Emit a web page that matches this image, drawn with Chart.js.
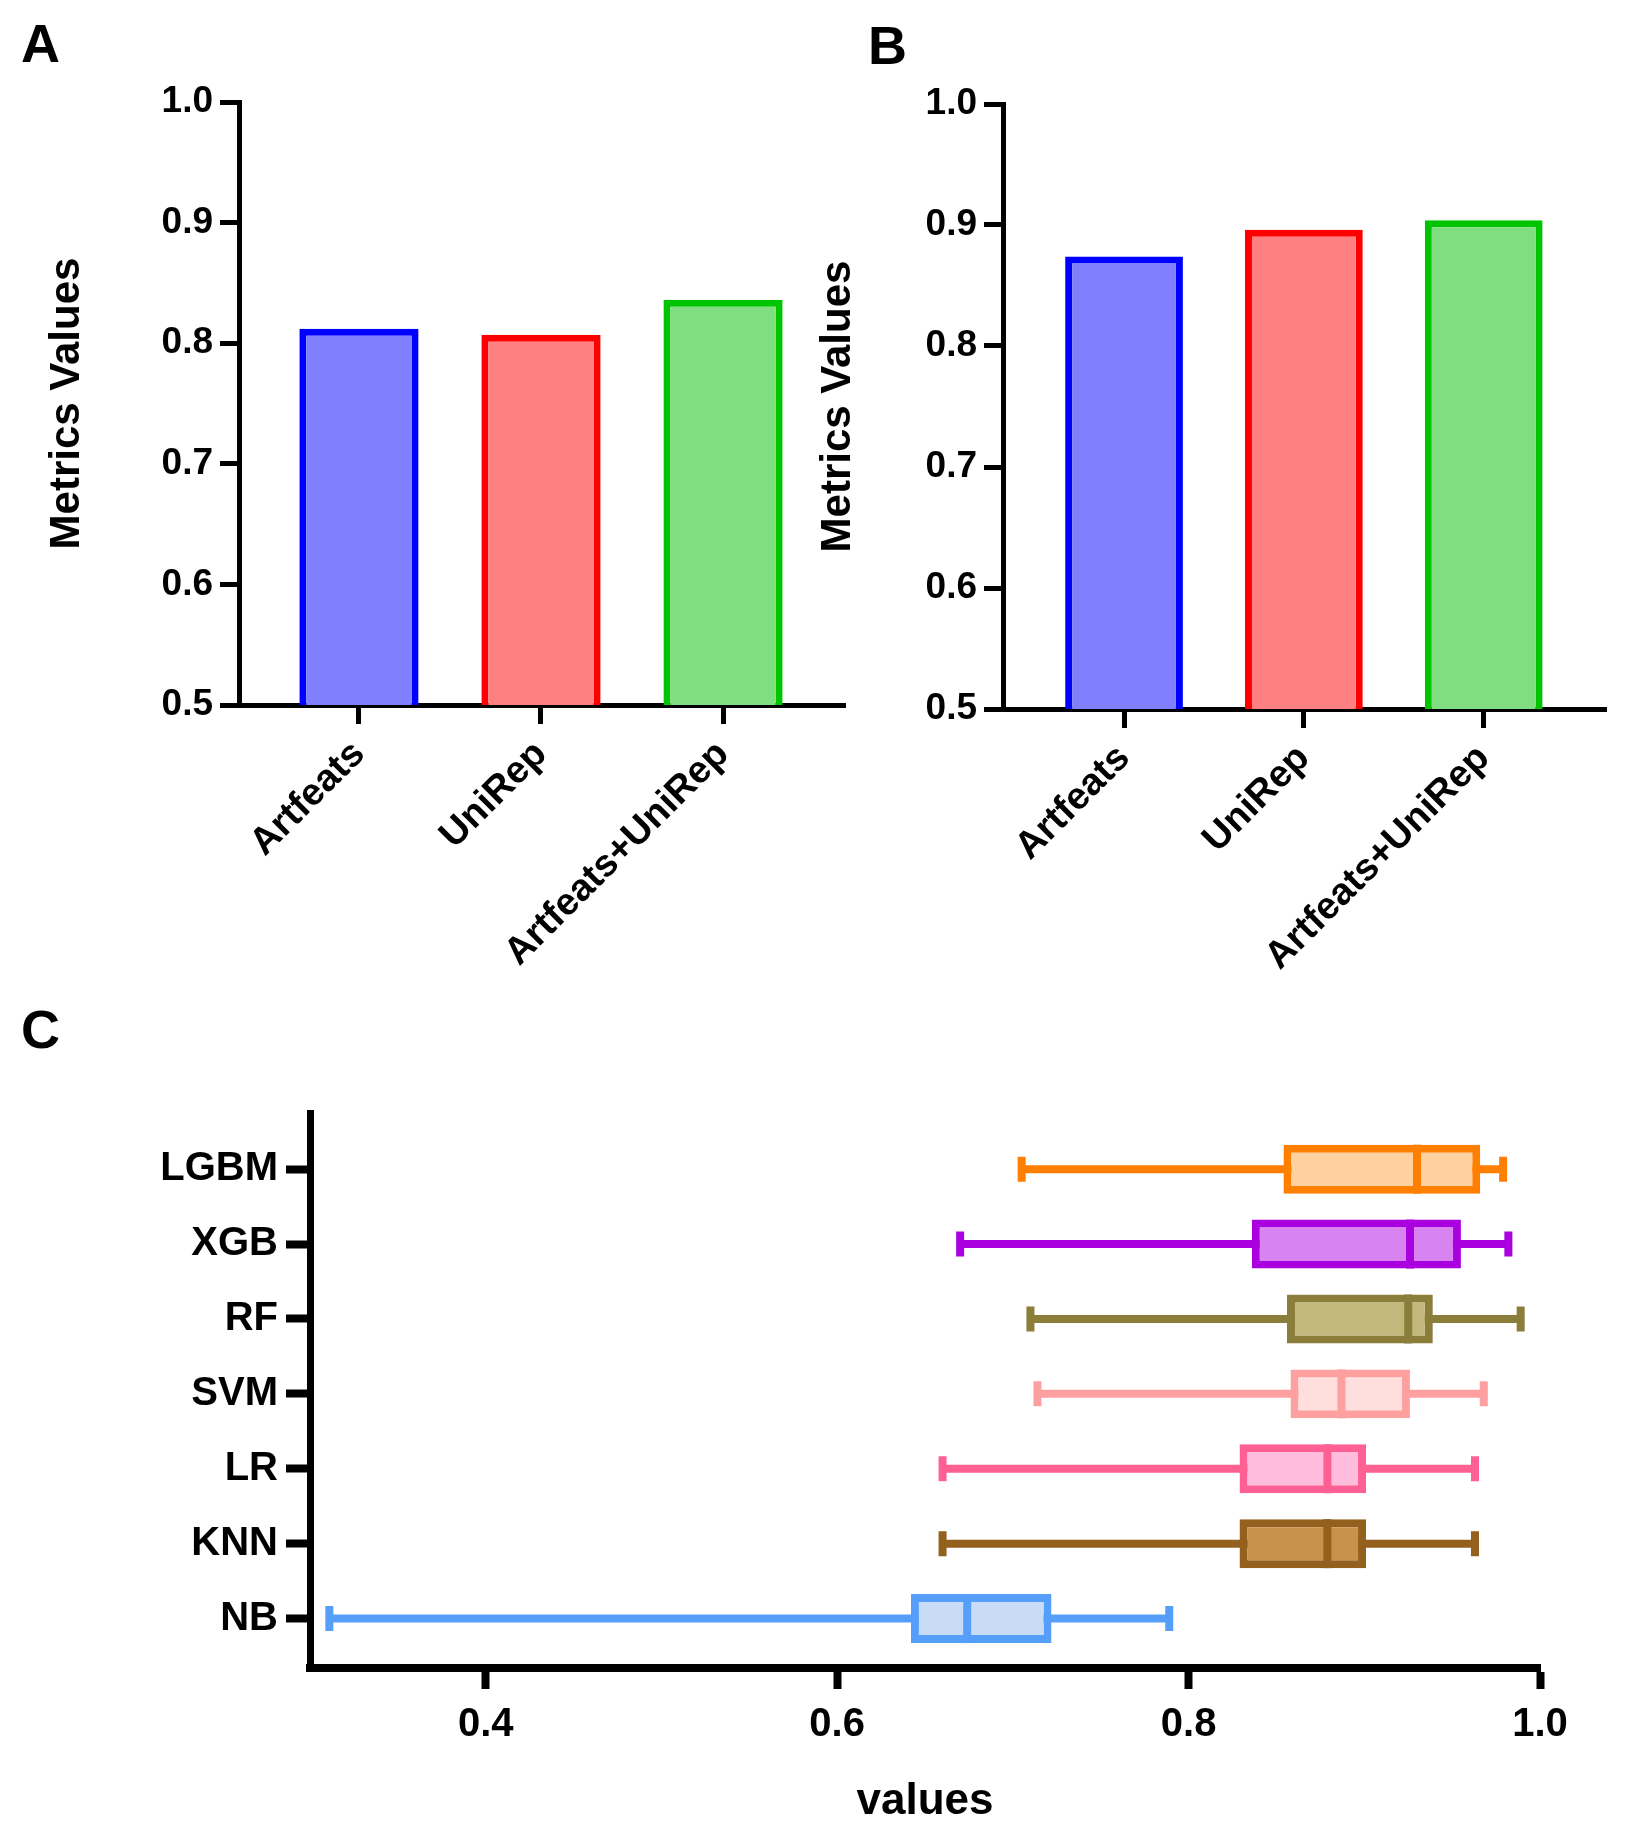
<!DOCTYPE html>
<html lang="en">

<head>
    <meta charset="UTF-8">
    <title>Metrics</title>
    <script src="https://cdn.jsdelivr.net/npm/chart.js@4.4.1/dist/chart.umd.min.js"></script>
    <style>
        body { margin: 0; background: #fff; }
        #page { position: relative; width: 1635px; height: 1834px; overflow: hidden; }
        canvas { position: absolute; }
        .tag { position: absolute; font: bold 54px "Liberation Sans", Arial, sans-serif; line-height: 1; color: #000; }
    </style>
</head>

<body>
    <div id="page">
        <div class="tag" style="left:21px; top:16px;">A</div>
        <div class="tag" style="left:868px; top:18px;">B</div>
        <div class="tag" style="left:21px; top:1002px;">C</div>
        <canvas id="chartA" width="870" height="1000" style="left:0; top:0;"></canvas>
        <canvas id="chartB" width="865" height="1000" style="left:770px; top:0;"></canvas>
        <canvas id="chartC" width="1635" height="774" style="left:0; top:1060px;"></canvas>
    </div>

    <script>
        // panels A and B
        var featureSets = ['Artfeats', 'UniRep', 'Artfeats+UniRep'];
        var valuesA = [0.812, 0.807, 0.836];
        var valuesB = [0.874, 0.896, 0.904];
        var metricTicks = [0.5, 0.6, 0.7, 0.8, 0.9, 1.0];
        var barBorders = ['#0000ff', '#ff0000', '#00c400'];
        var barFills = ['#8080ff', '#ff8080', '#80de80'];

        // panel C (box plots)
        var models = ['LGBM', 'XGB', 'RF', 'SVM', 'LR', 'KNN', 'NB'];
        var whiskerMin = [0.705, 0.670, 0.710, 0.714, 0.660, 0.660, 0.311];
        var q1 = [0.854, 0.836, 0.856, 0.858, 0.829, 0.829, 0.642];
        var median = [0.930, 0.926, 0.925, 0.887, 0.879, 0.879, 0.674];
        var q3 = [0.966, 0.955, 0.939, 0.926, 0.901, 0.901, 0.722];
        var whiskerMax = [0.979, 0.982, 0.989, 0.968, 0.963, 0.963, 0.789];
        var valueTicks = [0.4, 0.6, 0.8, 1.0];
        var boxBorders = ['#ff8000', '#aa00e0', '#8b7d3a', '#ffa0a0', '#ff6094', '#93601e', '#559ffa'];
        var boxFills = ['#ffd0a0', '#d884f0', '#c2b87c', '#ffdede', '#ffbcdc', '#c8924c', '#c8dcf8'];

        var FONT = '"Liberation Sans", Arial, sans-serif';
        Chart.defaults.font.family = FONT;
        Chart.defaults.color = '#000';

        function barPanel(id, values, opts) {
            var points = values.map(function (v, i) { return { x: i, y: v }; });
            return new Chart(document.getElementById(id), {
                type: 'bar',
                data: {
                    datasets: [{
                        data: points,
                        backgroundColor: barFills,
                        borderColor: barBorders,
                        borderWidth: 7,
                        categoryPercentage: 1,
                        barPercentage: 0.655
                    }]
                },
                options: {
                    responsive: false,
                    animation: false,
                    devicePixelRatio: 1,
                    layout: { padding: { top: opts.top, right: opts.right, bottom: 0, left: 0 } },
                    plugins: { legend: { display: false }, tooltip: { enabled: false } },
                    scales: {
                        x: {
                            type: 'linear',
                            offset: false,
                            min: opts.xmin,
                            max: opts.xmax,
                            afterBuildTicks: function (s) { s.ticks = featureSets.map(function (c, i) { return { value: i }; }); },
                            afterFit: function (s) { s.height = opts.xh; },
                            ticks: {
                                autoSkip: false,
                                minRotation: 45,
                                maxRotation: 45,
                                padding: 8,
                                font: { size: 38, weight: 'bold' },
                                callback: function (v) { return featureSets[v]; }
                            },
                            grid: { offset: false, drawOnChartArea: false, tickLength: 19, tickWidth: 5, color: '#000' },
                            border: { display: true, width: 5, color: '#000' }
                        },
                        y: {
                            min: 0.5,
                            max: 1.0,
                            afterBuildTicks: function (s) { s.ticks = metricTicks.map(function (v) { return { value: v }; }); },
                            afterFit: function (s) { s.width = opts.yw; },
                            ticks: {
                                padding: 7,
                                font: { size: 37, weight: 'bold' },
                                callback: function (v) { return v.toFixed(1); }
                            },
                            title: {
                                display: true,
                                text: 'Metrics Values',
                                font: { size: 42, weight: 'bold' },
                                padding: { top: opts.titlePad, bottom: 0 }
                            },
                            grid: { drawOnChartArea: false, tickLength: 19, tickWidth: 5, color: '#000' },
                            border: { display: true, width: 5, color: '#000' }
                        }
                    }
                }
            });
        }

        barPanel('chartA', valuesA, { top: 102, right: 25, xmin: -0.659, xmax: 2.67, xh: 295, yw: 239, titlePad: 42 });
        barPanel('chartB', valuesB, { top: 104, right: 29, xmin: -0.673, xmax: 2.68, xh: 291, yw: 233, titlePad: 43 });

        // whiskers under the boxes, medians on top
        var whiskerPlugin = {
            id: 'whiskers',
            beforeDatasetsDraw: function (chart) {
                var ctx = chart.ctx, x = chart.scales.x, y = chart.scales.y;
                ctx.save();
                ctx.lineWidth = 8;
                models.forEach(function (m, i) {
                    var py = y.getPixelForValue(i);
                    var x0 = x.getPixelForValue(whiskerMin[i]);
                    var x1 = x.getPixelForValue(whiskerMax[i]);
                    ctx.strokeStyle = boxBorders[i];
                    ctx.beginPath();
                    ctx.moveTo(x0, py); ctx.lineTo(x1, py);
                    ctx.moveTo(x0, py - 12.5); ctx.lineTo(x0, py + 12.5);
                    ctx.moveTo(x1, py - 12.5); ctx.lineTo(x1, py + 12.5);
                    ctx.stroke();
                });
                ctx.restore();
            },
            afterDatasetsDraw: function (chart) {
                var ctx = chart.ctx, x = chart.scales.x, y = chart.scales.y;
                var half = chart.getDatasetMeta(0).data[0].height / 2;
                ctx.save();
                ctx.lineWidth = 8;
                models.forEach(function (m, i) {
                    var py = y.getPixelForValue(i);
                    var px = x.getPixelForValue(median[i]);
                    ctx.strokeStyle = boxBorders[i];
                    ctx.beginPath();
                    ctx.moveTo(px, py - half); ctx.lineTo(px, py + half);
                    ctx.stroke();
                });
                ctx.restore();
            }
        };

        var boxes = models.map(function (m, i) { return { x: [q1[i], q3[i]], y: i }; });

        new Chart(document.getElementById('chartC'), {
            type: 'bar',
            data: {
                datasets: [{
                    data: boxes,
                    backgroundColor: boxFills,
                    borderColor: boxBorders,
                    borderWidth: 8,
                    borderSkipped: false,
                    categoryPercentage: 1,
                    barPercentage: 0.654
                }]
            },
            options: {
                indexAxis: 'y',
                responsive: false,
                animation: false,
                devicePixelRatio: 1,
                layout: { padding: { top: 53, right: 95, bottom: 0, left: 0 } },
                plugins: { legend: { display: false }, tooltip: { enabled: false } },
                scales: {
                    x: {
                        type: 'linear',
                        min: 0.3,
                        max: 1.0,
                        afterBuildTicks: function (s) { s.ticks = valueTicks.map(function (v) { return { value: v }; }); },
                        afterFit: function (s) { s.height = 166; },
                        ticks: {
                            padding: 12,
                            font: { size: 40, weight: 'bold' },
                            callback: function (v) { return v.toFixed(1); }
                        },
                        title: {
                            display: true,
                            text: 'values',
                            font: { size: 44, weight: 'bold' },
                            padding: { top: 0, bottom: 6 }
                        },
                        grid: { drawOnChartArea: false, tickLength: 21, tickWidth: 8, color: '#000' },
                        border: { display: true, width: 8, color: '#000' }
                    },
                    y: {
                        type: 'linear',
                        offset: false,
                        reverse: true,
                        min: -0.75,
                        max: 6.66,
                        afterBuildTicks: function (s) { s.ticks = models.map(function (m, i) { return { value: i }; }); },
                        afterFit: function (s) { s.width = 310; },
                        ticks: {
                            padding: 8,
                            font: { size: 40, weight: 'bold' },
                            callback: function (v) { return models[v]; }
                        },
                        grid: { offset: false, drawOnChartArea: false, tickLength: 24, tickWidth: 8, color: '#000' },
                        border: { display: true, width: 7, color: '#000' }
                    }
                }
            },
            plugins: [whiskerPlugin]
        });
    </script>
</body>

</html>
